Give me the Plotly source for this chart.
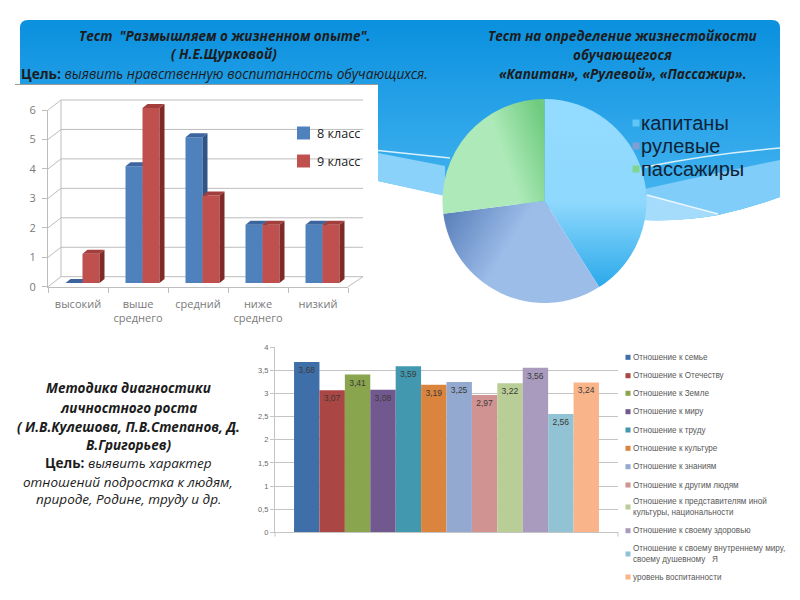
import json
import plotly.graph_objects as go

# ---------- data ----------
levels = ["высокий", "выше<br>среднего", "средний", "ниже<br>среднего", "низкий"]
grade8 = [0, 4, 5, 2, 2]
grade9 = [1, 6, 3, 2, 2]
level_ticks = [0, 1, 2, 3, 4, 5, 6]

roles = ["капитаны", "рулевые", "пассажиры"]
role_shares = [41, 32, 27]
role_colors = ["#5fc6f8", "#7f9fd2", "#7fd68f"]

attitudes = [
    "Отношение к семье", "Отношение к Отечеству", "Отношение к Земле", "Отношение к миру",
    "Отношение к труду", "Отношение к культуре", "Отношение к знаниям", "Отношение к другим людям",
    "Отношение к представителям иной<br>культуры, национальности", "Отношение к своему здоровью",
    "Отношение к своему внутреннему миру,<br>своему душевному   Я", "уровень воспитанности",
]
attitude_values = [3.68, 3.07, 3.41, 3.08, 3.59, 3.19, 3.25, 2.97, 3.22, 3.56, 2.56, 3.24]
attitude_colors = ["#3f6fa8", "#aa4644", "#89a54e", "#71588f", "#4198af", "#db843d",
                   "#93a9cf", "#d19392", "#b9cd96", "#a99bbd", "#91c3d5", "#f9b48a"]
attitude_ticks = [0, 0.5, 1, 1.5, 2, 2.5, 3, 3.5, 4]

W, H = 800, 600
def px(x): return x / W
def py(y): return 1 - y / H
def dx(a, b): return [a / W, b / W]
def dy(top, bottom): return [1 - bottom / H, 1 - top / H]

def pth(*cmds):
    out = []
    for c in cmds:
        if isinstance(c, str):
            out.append(c)
        else:
            out.append(f"{px(c[0]):.5f},{py(c[1]):.5f}")
    return " ".join(out)

HEAD = "Open Sans"
GREY = "#7a7a7a"
fig = go.Figure()

# visible (front) axes of the 3D chart
fig.add_scatter(x=list(range(len(levels))), y=grade8, mode="markers", marker=dict(opacity=0),
                hoverinfo="skip", showlegend=False, xaxis="x", yaxis="y")

# ---------- 3D column chart ----------
bar_w = 17 / 60
depth_x = 5 / 60
depth_y = 4 / 29.17

def faces(values, left):
    side_x, side_y, top_x, top_y = [], [], [], []
    for i, v in enumerate(values):
        a = i + left
        b = a + bar_w
        top_x += [a, b, b + depth_x, a + depth_x, a, None]
        top_y += [v, v, v + depth_y, v + depth_y, v, None]
        side_x += [b, b, b + depth_x, b + depth_x, b, None]
        side_y += [0, v, v + depth_y, depth_y, 0, None]
    return side_x, side_y, top_x, top_y

for name, vals, left, front, side, top, xa, ya in [
    ("8 класс", grade8, -bar_w, "#4f81bd", "#2f5588", "#3b659c", "x2", "y2"),
    ("9 класс", grade9, 0, "#c0504d", "#7f2a28", "#a23f3c", "x3", "y3"),
]:
    fig.add_bar(x=list(range(len(levels))), y=vals, width=bar_w, offset=left, name=name,
                marker=dict(color=front, line=dict(width=0)), xaxis=xa, yaxis=ya, legend="legend")
    sx, sy, tx, ty = faces(vals, left)
    for fx, fy, col in [(sx, sy, side), (tx, ty, top)]:
        fig.add_scatter(x=fx, y=fy, mode="lines", fill="toself", fillcolor=col,
                        line=dict(width=0), hoverinfo="skip", showlegend=False,
                        xaxis=xa, yaxis=ya)

# ---------- pie ----------
fig.add_pie(labels=roles, values=role_shares, sort=False, direction="clockwise", rotation=0,
            marker=dict(colors=role_colors, line=dict(width=0)), textinfo="none",
            domain=dict(x=dx(442, 647), y=dy(99, 303)), legend="legend2")

# ---------- flat column chart ----------
for name, v, col in zip(attitudes, attitude_values, attitude_colors):
    fig.add_bar(x=["уровень"], y=[v], name=name, marker=dict(color=col, line=dict(width=0)),
                texttemplate="%{y:.2f}", textposition="inside", insidetextanchor="end",
                textangle=0, textfont=dict(size=8.5, color="#3a3a3a", family="Liberation Sans"),
                xaxis="x4", yaxis="y4", legend="legend3")

# ---------- slide decoration ----------
shapes = []
def shape_path(d, fill):
    shapes.append(dict(type="path", path=d, xref="paper", yref="paper", fillcolor=fill,
                       line=dict(width=0), layer="below"))
def shape_line(x0, y0, x1, y1, col="#bdbdbd", w=1):
    shapes.append(dict(type="line", x0=px(x0), y0=py(y0), x1=px(x1), y1=py(y1), xref="paper",
                       yref="paper", line=dict(color=col, width=w), layer="below"))

shape_path(pth("M", (20, 28), "Q", (20, 20), (28, 20), "L", (772, 20), "Q", (780, 20), (780, 28),
               "L", (780, 197), "Q", (750, 208), (718, 215), "Q", (680, 222), (630, 219),
               "L", (443, 195), "L", (378, 181), "L", (20, 181), "Z"), "#2aa5e9")
# wave bands
shape_path(pth("M", (378, 153), "L", (445, 166), "L", (445, 196), "L", (378, 181), "Z"), "#8bd2fb")
shape_path(pth("M", (780, 160), "Q", (720, 172), (640, 190), "L", (640, 220), "Q", (680, 222), (718, 215),
               "Q", (750, 208), (780, 197), "Z"), "#7fcdf8")
shape_path(pth("M", (640, 193), "L", (718, 215), "Q", (680, 222), (640, 220), "Z"), "#a5dcfb")
shape_line(378, 150.5, 450, 158, "#d9f0fd", 1.5)
shape_line(647, 195, 718, 214, "#eaf7fe", 1.5)
shapes.append(dict(type="path", xref="paper", yref="paper", layer="below", line=dict(color="#d9f0fd", width=1.5),
                   path=pth("M", (780, 148), "Q", (710, 154), (645, 167))))
# white chart panel
shapes.append(dict(type="rect", x0=px(15), x1=px(378), y0=py(335), y1=py(85), xref="paper", yref="paper",
                   fillcolor="white", line=dict(width=0), layer="below"))
shape_line(15, 84.5, 378, 84.5, "#9a9a9a", 1)

# 3D wall gridlines, one per tick value
X0, X1, Y0, UNIT = 48, 348, 286.7, 29.45
BX, BY, BR = 13, 10, 363
for t in level_ticks:
    y = Y0 - t * UNIT
    shape_line(X0, y, X0 + BX, y - BY)
    shape_line(X0 + BX, y - BY, BR, y - BY)
shape_line(X1, Y0, BR, Y0 - BY)
shape_line(X0 + BX, Y0 - BY, X0 + BX, Y0 - 6 * UNIT - BY)

# end ticks under the flat chart
for x in (275, 618):
    shape_line(x, 532.3, x, 536.5, "#c4c4c4")

# ---------- headings ----------
anns = []
def text(x, y, s, size=13.5, color="#1c1c1c", family=HEAD):
    anns.append(dict(x=px(x), y=py(y), xref="paper", yref="paper", text=s, showarrow=False,
                     xanchor="center", yanchor="middle", font=dict(size=size, color=color, family=family)))

BI = "<b><i>{}</i></b>"
text(224, 36, BI.format('Тест  "Размышляем о жизненном опыте".'))
text(224, 54, BI.format("( Н.Е.Щурковой)"))
text(224, 74, "<b>Цель:</b> <i>выявить нравственную воспитанность обучающихся.</i>", size=13.7)
text(622, 36, BI.format("Тест на определение жизнестойкости"))
text(622, 55, BI.format("обучающегося"))
text(622, 74, BI.format("«Капитан», «Рулевой», «Пассажир»."))
text(128, 388, BI.format("Методика диагностики"))
text(128, 408, BI.format("личностного роста"))
text(128, 426.5, BI.format("( И.В.Кулешова, П.В.Степанов, Д."))
text(128, 445, BI.format("В.Григорьев)"))
text(128, 463, "<b>Цель:</b> <i>выявить характер</i>")
text(128, 482, "<i>отношений подростка к людям,</i>")
text(128, 499, "<i>природе, Родине, труду и др.</i>")

hidden = dict(visible=False, fixedrange=True)
legend_box = dict(xanchor="left", yanchor="top", bgcolor="rgba(0,0,0,0)")
fig.update_layout(
    width=W, height=H, margin=dict(l=0, r=0, t=0, b=0, pad=0, autoexpand=False), autosize=False,
    paper_bgcolor="white", plot_bgcolor="rgba(0,0,0,0)", separators=",.", barmode="group",
    bargap=0.111, shapes=shapes, annotations=anns, hovermode=False,
    font=dict(family="Open Sans", color=GREY),
    xaxis=dict(domain=dx(X0, X1), range=[-0.5, 4.5], tickvals=list(range(5)), ticktext=levels,
               showgrid=False, zeroline=False, showline=True, linecolor="#bdbdbd", ticks="",
               tickangle=0, ticklabelstandoff=7, tickfont=dict(size=11, color=GREY, family="Open Sans"),
               minor=dict(tickvals=[-0.5, 0.5, 1.5, 2.5, 3.5, 4.5], ticks="outside", ticklen=5,
                          tickcolor="#bdbdbd", showgrid=False), anchor="y", fixedrange=True),
    yaxis=dict(domain=dy(Y0 - 6 * UNIT, Y0), range=[0, 6], tickvals=level_ticks, showgrid=False,
               zeroline=False, showline=True, linecolor="#bdbdbd", ticks="outside", ticklen=5,
               ticklabelstandoff=4, tickcolor="#bdbdbd", tickfont=dict(size=11, color=GREY, family="Open Sans"),
               anchor="x", fixedrange=True),
    # hidden axes holding the columns, shifted as in the perspective of the reference
    xaxis2=dict(domain=dx(52.5, 352.5), range=[-0.5, 4.5], anchor="y2", **hidden),
    yaxis2=dict(domain=dy(283 - 6.5 * 29.17, 283), range=[0, 6.5], anchor="x2", **hidden),
    xaxis3=dict(domain=dx(52.5, 352.5), range=[-0.5, 4.5], anchor="y3", overlaying="x2", **hidden),
    yaxis3=dict(domain=dy(283 - 6.5 * 29.17, 283), range=[0, 6.5], anchor="x3", overlaying="y2", **hidden),
    xaxis4=dict(domain=dx(275, 618), showticklabels=False, ticks="", showline=True,
                linecolor="#c4c4c4", showgrid=False, anchor="y4", fixedrange=True),
    yaxis4=dict(domain=dy(347.3, 532.3), range=[0, 4], tickvals=attitude_ticks, showgrid=True,
                gridcolor="#c4c4c4", zeroline=False, showline=True, linecolor="#c4c4c4", ticks="outside",
                ticklen=4, tickcolor="#c4c4c4", tickfont=dict(size=7.5, color="#6a6a6a", family="Liberation Sans"),
                anchor="x4", fixedrange=True),
    legend=dict(x=px(283), y=py(120), font=dict(size=12.6, color="#222222", family="Open Sans"), **legend_box),
    legend2=dict(x=px(601), y=py(105), font=dict(size=20, color="#0f2236", family="Liberation Sans"), **legend_box),
    legend3=dict(x=px(593), y=py(345), font=dict(size=8.15, color="#595959", family="Liberation Sans"), **legend_box),
)

# Reference legends have tighter rows, smaller swatches and soft fills: fitted after drawing.
placement = {
    "legend2": dict(ys=[123, 146, 169], sym_x=636, k=0.58, text_x=641),
    "legend3": dict(ys=[357.3, 375.7, 393.3, 411.7, 430, 448.3, 466.7, 485, 507, 530.7, 554, 577],
                    sym_x=628, k=0.42, text_x=633),
    "legend": dict(ys=[133, 161], sym_x=303.5, k=1.08, text_x=317),
}
grads = [
    ("g0", (0, 0, 0, 1), [(0, "#94dcff"), (0.55, "#8ed8fd"), (1, "#2aa9ea")]),
    ("g1", (0, 0.2, 1, 0.6), [(0, "#5c82bc"), (0.45, "#9dbde9"), (1, "#9dbde9")]),
    ("g2", (0, 0.6, 1, 0.2), [(0, "#aeeab9"), (0.55, "#aeeab9"), (1, "#6fcb7f")]),
    ("gh", (0, 0, 0, 1), [(0, "#0a90de"), (0.55, "#2ea6ea"), (1, "#4ab8f0")]),
]
js = """
document.body.style.margin='0';document.body.style.overflow='hidden';
var gd=document.getElementById('{plot_id}');
var PLACE=%s, GRADS=%s;
function shift(el,ox,oy){
 var m=/translate\\(([^,]+),\\s*([^)]+)\\)/.exec(el.getAttribute('transform')||'');
 var tx=m?+m[1]:0,ty=m?+m[2]:0;
 el.setAttribute('transform','translate('+(tx+ox)+','+(ty+oy)+')');
}
function gradients(){
 var svg=gd.querySelector('.main-svg'), NS='http://www.w3.org/2000/svg';
 var defs=document.createElementNS(NS,'defs');
 GRADS.forEach(function(g){
  var e=document.createElementNS(NS,'linearGradient');e.setAttribute('id',g[0]);
  ['x1','y1','x2','y2'].forEach(function(k,i){e.setAttribute(k,g[1][i]);});
  g[2].forEach(function(s){var o=document.createElementNS(NS,'stop');o.setAttribute('offset',s[0]);o.setAttribute('stop-color',s[1]);e.appendChild(o);});
  defs.appendChild(e);});
 svg.insertBefore(defs,svg.firstChild);
 gd.querySelectorAll('.pielayer .slice path.surface').forEach(function(p,i){p.style.fill='url(#g'+i+')';});
 var head=gd.querySelector('.layer-below .shapelayer path');if(head){head.style.fill='url(#gh)';}
}
function fit(){
 Object.keys(PLACE).forEach(function(id){
  var c=PLACE[id];
  var box=gd.querySelector('.infolayer > g.'+id);
  if(!box){return;}
  box.querySelectorAll('.traces').forEach(function(t,i){
   var txt=t.querySelector('text');if(!txt){return;}
   var r=txt.getBoundingClientRect();
   shift(t,c.text_x-r.left,c.ys[i]-(r.top+r.height/2));
   Array.prototype.forEach.call(t.children,function(g){
    if(g.tagName.toLowerCase()!=='g'){return;}
    g.setAttribute('transform','scale('+c.k+')');
    var b=g.getBoundingClientRect();
    if(b.width<=0){g.removeAttribute('transform');return;}
    var ox=c.sym_x-(b.left+b.width/2), oy=c.ys[i]-(b.top+b.height/2);
    g.setAttribute('transform','translate('+ox+','+oy+') scale('+c.k+')');
   });
  });
 });
}
gradients();fit();
setTimeout(fit,60);
""" % (json.dumps(placement), json.dumps(grads))

fig.write_html("out.html", post_script=js, config=dict(displayModeBar=False))
